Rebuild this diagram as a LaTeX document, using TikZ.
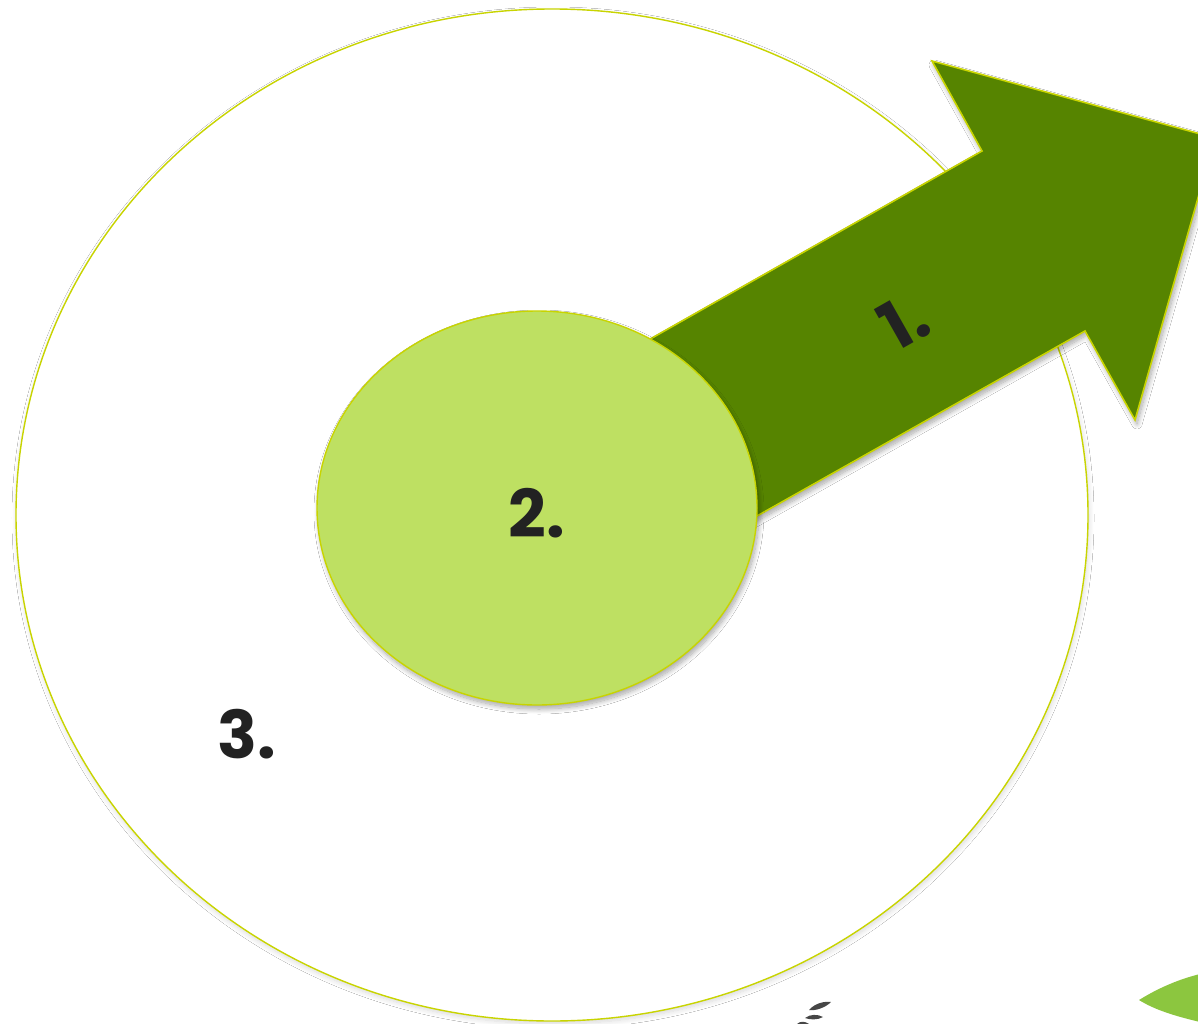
\documentclass[tikz,border=0pt]{standalone}
\usepackage{fontspec}
\setmainfont{Poppins}
\usetikzlibrary{shapes.geometric,shadows.blur}
\definecolor{arrowgreen}{RGB}{86,132,0}
\definecolor{lightgreen}{RGB}{190,224,98}
\definecolor{rimgreen}{RGB}{200,212,0}
\definecolor{leafgreen}{RGB}{140,198,63}
\definecolor{txt}{RGB}{34,34,34}
\definecolor{leafgrey}{RGB}{70,70,70}
\tikzset{
  rim/.style={draw=rimgreen, line width=1.6pt},
  softshadow/.style={blur shadow={shadow blur steps=12, shadow xshift=2pt, shadow yshift=-4pt, shadow opacity=35, shadow blur radius=5pt}},
  faintshadow/.style={blur shadow={shadow blur steps=10, shadow xshift=1pt, shadow yshift=-3pt, shadow opacity=15, shadow blur radius=5pt}},
  numlabel/.style={text=txt, font=\fontsize{66}{66}\selectfont\bfseries, inner sep=0pt, anchor=center}
}
\begin{document}
\begin{tikzpicture}[x=1pt,y=-1pt]
\useasboundingbox (0,0) rectangle (1198,1024);
\clip (0,0) rectangle (1198,1024);
\fill[white] (0,0) rectangle (1198,1024);
% outer ring
\node (outer) [ellipse, rim, line width=1.4pt, fill=white, faintshadow, minimum width=1072pt, minimum height=1012pt, inner sep=0pt] at (552,515) {};
% arrow
\path[rim, fill=arrowgreen, softshadow] (560,390) -- (652,338) -- (982,151) -- (932,61) -- (1215,138) -- (1135,420) -- (1085,331) -- (757,516) -- (665,568) -- cycle;
% inner ellipse
\node (inner) [ellipse, rim, line width=1.4pt, fill=lightgreen, softshadow, minimum width=440pt, minimum height=394pt, inner sep=0pt] at (537,508) {};
% labels
\node (l1) [numlabel, rotate=29.5] at (904,321) {1.};
\node (l2) [numlabel] at (537,513) {2.};
\node (l3) [numlabel] at (247,734) {3.};
% fragments at bottom edge
\fill[leafgrey] (809,1010) .. controls (815,1003) and (825,1001) .. (831,1002) .. controls (825,1008) and (815,1011) .. (809,1010) -- cycle;
\fill[leafgrey] (805,1018) .. controls (810,1014) and (818,1014) .. (823,1017) .. controls (818,1020) and (810,1020) .. (805,1018) -- cycle;
\fill[leafgrey] (797,1024) .. controls (800,1021) and (805,1021) .. (809,1024) -- cycle;
\fill[leafgreen] (1139,1000) .. controls (1160,987) and (1180,979) .. (1200,974) -- (1200,1022) .. controls (1175,1016) and (1155,1010) .. (1139,1000) -- cycle;
\end{tikzpicture}
\end{document}
